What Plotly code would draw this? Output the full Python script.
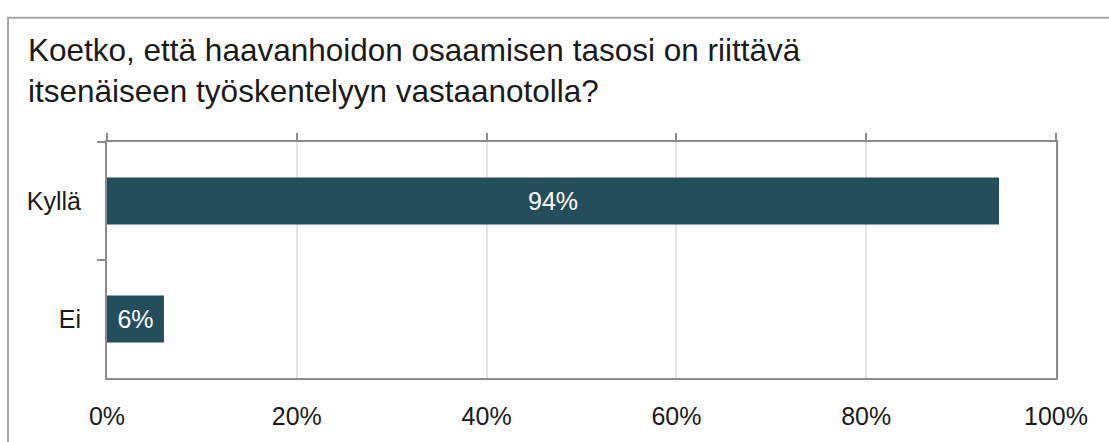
import plotly.graph_objects as go

categories = ["Kyllä", "Ei"]
values = [94, 6]
labels = ["94%", "6%"]
x_ticks = [0, 20, 40, 60, 80, 100]
x_ticktext = ["0%", "20%", "40%", "60%", "80%", "100%"]
title_text = "Koetko, että haavanhoidon osaamisen tasosi on riittävä<br>itsenäiseen työskentelyyn vastaanotolla?"

W, H = 1109, 442
L, R, T, B = 107, 53, 142, 57
FONT = "Liberation Sans, Arial, sans-serif"
BAR = "#244e5c"
AXIS = "#8c8c8c"
GRID = "#e4e4e4"
TXT = "#1a1a1a"

fig = go.Figure()
fig.add_trace(go.Bar(
    x=values, y=categories, orientation="h",
    marker=dict(color=BAR, line=dict(width=0)),
    text=labels, textposition="inside", insidetextanchor="middle",
    textfont=dict(color="white", size=25, family=FONT),
    hoverinfo="skip", cliponaxis=False,
))
# invisible trace for the top tick axis
fig.add_trace(go.Scatter(x=[0, 100], y=categories, xaxis="x2", mode="markers",
                         marker=dict(opacity=0), hoverinfo="skip", showlegend=False))

fig.update_layout(
    width=W, height=H,
    margin=dict(l=L, r=R, t=T, b=B, pad=0),
    paper_bgcolor="white", plot_bgcolor="white",
    showlegend=False,
    bargap=0.6,
    font=dict(family=FONT, size=25, color=TXT),
    xaxis=dict(range=[0, 100], tickvals=x_ticks, ticktext=x_ticktext,
               showgrid=True, gridcolor=GRID, gridwidth=2,
               showline=True, linecolor=AXIS, linewidth=2, mirror=True,
               ticks="", zeroline=False, fixedrange=True,
               tickfont=dict(size=25, family=FONT, color=TXT),
               ticklabelstandoff=15),
    xaxis2=dict(range=[0, 100], tickvals=x_ticks, overlaying="x", side="top",
                showticklabels=False, ticks="outside", ticklen=8, tickwidth=2,
                tickcolor=AXIS, showgrid=False, showline=False, zeroline=False),
    yaxis=dict(autorange="reversed", type="category",
               showline=True, linecolor=AXIS, linewidth=2, mirror=True,
               ticks="outside", tickson="boundaries", ticklen=8, tickwidth=2,
               tickcolor=AXIS, showgrid=False, zeroline=False,
               tickfont=dict(size=25, family=FONT, color=TXT),
               ticklabelstandoff=19),
)

fig.add_annotation(text=title_text, xref="paper", yref="paper",
                   x=(26 - L) / (W - L - R), y=1 + (T - 27) / (H - T - B),
                   xanchor="left", yanchor="top", align="left", showarrow=False,
                   font=dict(size=31.5, family=FONT, color=TXT))

# outer frame of the chart
pw, ph = W - L - R, H - T - B
fig.add_shape(type="rect", xref="paper", yref="paper",
              x0=(8 - L) / pw, x1=(W + 20 - L) / pw,
              y0=(H - B - (H + 20)) / ph, y1=(H - B - 14) / ph,
              line=dict(color="#a6a6a6", width=2), fillcolor="rgba(0,0,0,0)", layer="below")

fig.write_html("out.html")
